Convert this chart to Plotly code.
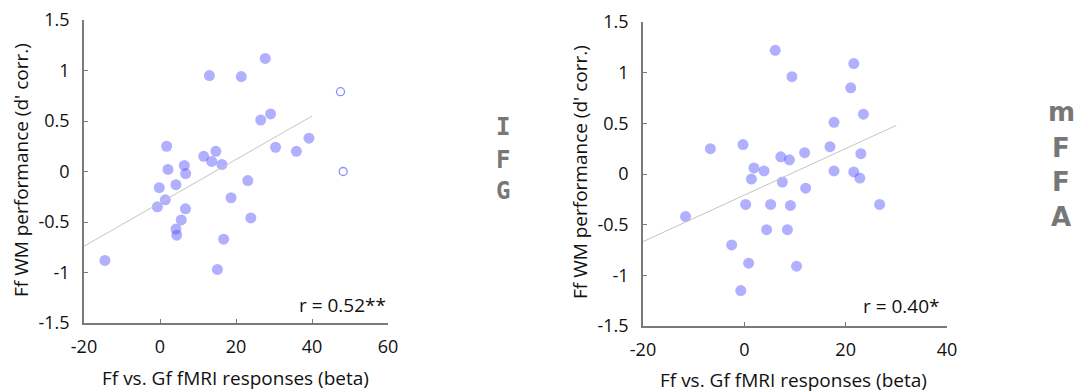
import numpy as np
import plotly.graph_objects as go

# ---- IFG panel data ----
ifg_x = [13.0, 21.4, 27.7, 26.5, 29.1, 30.4, 35.9, 39.2,
         1.75, 2.1, 6.4, 6.75, 11.5, 13.6, 14.7, 16.3,
         -0.2, 4.2, 1.4, -0.7, 6.7, 5.6, 4.2, 4.4,
         23.1, 18.7, 23.9, 16.75, 15.1, -14.5]
ifg_y = [0.95, 0.94, 1.12, 0.51, 0.57, 0.24, 0.20, 0.33,
         0.25, 0.02, 0.06, -0.02, 0.15, 0.10, 0.20, 0.07,
         -0.16, -0.13, -0.28, -0.35, -0.37, -0.48, -0.57, -0.63,
         -0.09, -0.26, -0.46, -0.67, -0.97, -0.88]
ifg_out_x = [47.5, 48.2]
ifg_out_y = [0.79, 0.0]
ifg_fit_range = [-20, 40]
ifg_r = "r = 0.52**"
ifg_xticks = [-20, 0, 20, 40, 60]
ifg_xticklabels = ["-20", "0", "20", "40", "60"]

# ---- mFFA panel data ----
mffa_x = [6.1, 9.4, 21.6, 21.0, 23.5, 17.7, 16.9, 23.0,
          -6.7, -0.26, 1.9, 3.9, 1.4, 7.2, 8.9, 11.9,
          7.5, 12.1, 17.7, 21.6, 22.8,
          0.26, 5.2, 9.1, 26.7, -11.6, 4.4, 8.5, -2.5, 0.85, 10.3, -0.7]
mffa_y = [1.22, 0.96, 1.09, 0.85, 0.59, 0.51, 0.27, 0.20,
          0.25, 0.29, 0.06, 0.03, -0.05, 0.17, 0.14, 0.21,
          -0.08, -0.14, 0.03, 0.02, -0.04,
          -0.30, -0.30, -0.31, -0.30, -0.42, -0.55, -0.55, -0.70, -0.88, -0.91, -1.15]
mffa_fit_range = [-20, 30]
mffa_r = "r = 0.40*"
mffa_xticks = [-20, 0, 20, 40]
mffa_xticklabels = ["-20", "0", "20", "40"]

yticks = [-1.5, -1, -0.5, 0, 0.5, 1, 1.5]
yticklabels = ["-1.5", "-1", "-0.5", "0", "0.5", "1", "1.5"]

x_title = "Ff vs. Gf fMRI responses (beta)"
y_title = "Ff WM performance (d' corr.)"

FONT = "Open Sans"
AXC = "#7a7a7a"
DOT = "rgba(80,80,255,0.45)"
TXT = "#111"

fig = go.Figure()

def add_panel(xs, ys, fit_rng, xa, ya):
    fig.add_trace(go.Scatter(x=xs, y=ys, mode="markers", xaxis=xa, yaxis=ya,
                             marker=dict(size=11, color=DOT, line=dict(width=0)),
                             showlegend=False, cliponaxis=False))
    k, b = np.polyfit(xs, ys, 1)
    fx = np.array(fit_rng, dtype=float)
    fig.add_trace(go.Scatter(x=fx, y=k * fx + b, mode="lines", xaxis=xa, yaxis=ya,
                             line=dict(color="#c4c4c4", width=1), showlegend=False))

add_panel(ifg_x, ifg_y, ifg_fit_range, "x", "y")
fig.add_trace(go.Scatter(x=ifg_out_x, y=ifg_out_y, mode="markers", xaxis="x", yaxis="y",
                         marker=dict(size=8, color="rgba(0,0,0,0)",
                                     line=dict(width=1.3, color="#8c8cff")),
                         showlegend=False, cliponaxis=False))
add_panel(mffa_x, mffa_y, mffa_fit_range, "x2", "y2")

def xaxis(rng, dom, tv, tt, anchor):
    return dict(domain=dom, range=rng, tickmode="array", tickvals=tv, ticktext=tt,
                showgrid=False, zeroline=False, anchor=anchor, automargin=False,
                showline=True, linecolor=AXC, linewidth=1.5, ticks="inside", ticklen=4,
                tickcolor=AXC, ticklabelstandoff=7,
                tickfont=dict(family=FONT, size=18, color=TXT))

def yaxis(dom, anchor):
    return dict(domain=dom, range=[-1.5, 1.5], tickmode="array", tickvals=yticks,
                ticktext=yticklabels, showgrid=False, zeroline=False,
                anchor=anchor, automargin=False,
                showline=True, linecolor=AXC, linewidth=1.5, ticks="inside",
                ticklen=4, tickcolor=AXC, ticklabelstandoff=9,
                tickfont=dict(family=FONT, size=18, color=TXT))

W, H = 1080, 392
fig.update_layout(
    width=W, height=H, margin=dict(l=0, r=0, t=0, b=0),
    paper_bgcolor="white", plot_bgcolor="white",
    xaxis=xaxis([-20, 60], [84 / W, 388 / W], ifg_xticks, ifg_xticklabels, "y"),
    yaxis=yaxis([69 / H, 372 / H], "x"),
    xaxis2=xaxis([-20, 40], [643 / W, 947 / W], mffa_xticks, mffa_xticklabels, "y2"),
    yaxis2=yaxis([66 / H, 370 / H], "x2"),
)

tf = dict(family=FONT, size=19, color=TXT)
anns = [
    # axis titles
    dict(text=x_title, x=235 / W, y=1 - 378 / H, xref="paper", yref="paper",
         xanchor="center", yanchor="middle", showarrow=False, font=tf),
    dict(text=x_title, x=793 / W, y=1 - 380 / H, xref="paper", yref="paper",
         xanchor="center", yanchor="middle", showarrow=False, font=tf),
    dict(text=y_title, x=21 / W, y=1 - 170 / H, xref="paper", yref="paper", textangle=-90,
         xanchor="center", yanchor="middle", showarrow=False, font=tf),
    dict(text=y_title, x=580 / W, y=1 - 172 / H, xref="paper", yref="paper", textangle=-90,
         xanchor="center", yanchor="middle", showarrow=False, font=tf),
    # correlation labels
    dict(text=ifg_r, x=1, y=0.06, xref="x domain", yref="y domain", xanchor="right",
         yanchor="middle", showarrow=False, font=dict(family=FONT, size=19, color=TXT)),
    dict(text=mffa_r, x=0.985, y=0.065, xref="x2 domain", yref="y2 domain", xanchor="right",
         yanchor="middle", showarrow=False, font=dict(family=FONT, size=19, color=TXT)),
]
# vertical region labels
ifg_letters = [("I", 127), ("F", 160), ("G", 191)]
for ch, yy in ifg_letters:
    anns.append(dict(text="<b>%s</b>" % ch, x=503 / W, y=1 - yy / H, xref="paper", yref="paper",
                     showarrow=False, xanchor="center", yanchor="middle",
                     font=dict(family="DejaVu Sans Mono", size=24, color="#777777")))
mffa_letters = [("m", 112), ("F", 148), ("F", 182), ("A", 217)]
for ch, yy in mffa_letters:
    anns.append(dict(text="<b>%s</b>" % ch, x=1061 / W, y=1 - yy / H, xref="paper", yref="paper",
                     showarrow=False, xanchor="center", yanchor="middle",
                     font=dict(family="DejaVu Sans", size=26, color="#777777")))
fig.update_layout(annotations=anns)

fig.write_html("out.html")
